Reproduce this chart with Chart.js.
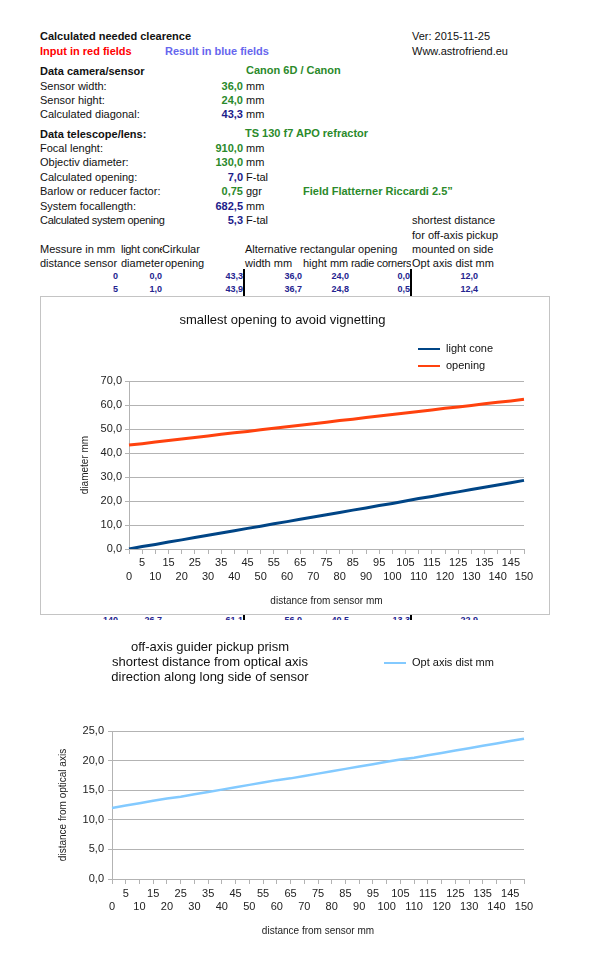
<!DOCTYPE html>
<html>
<head>
<meta charset="utf-8">
<script src="https://cdn.jsdelivr.net/npm/chart.js@4.4.0/dist/chart.umd.min.js"></script>
<style>
body { margin:0; background:#fff; width:597px; height:957px; position:relative; overflow:hidden; font-family:"Liberation Sans", Arial, sans-serif; }
.t { position:absolute; font-size:11px; line-height:14px; white-space:nowrap; color:#111; }
.b { font-weight:bold; }
.g { color:#2b8a2b; font-weight:bold; }
.d { color:#1c1c8a; font-weight:bold; }
.r { text-align:right; }
.n { position:absolute; font-size:9px; line-height:14px; font-weight:bold; color:#24248f; text-align:right; white-space:nowrap; }
.clip { overflow:hidden; letter-spacing:-0.3px; }
.vl { position:absolute; width:2px; background:#000; top:269px; height:370px; }
#box1 { position:absolute; left:40px; top:296px; width:508px; height:317px; border:1px solid #c4c4c4; background:#fff; }
#box2 { position:absolute; left:40px; top:620px; width:520px; height:337px; background:#fff; }
canvas { display:block; }
</style>
</head>
<body>
<div class="t b" style="left:40px;top:29px">Calculated needed clearence</div>
<div class="t" style="left:412px;top:29px">Ver: 2015-11-25</div>
<div class="t b" style="left:40px;top:44px;color:#ff0000">Input in red fields</div>
<div class="t b" style="left:165px;top:44px;color:#6666ee">Result in blue fields</div>
<div class="t" style="left:412px;top:44px">Www.astrofriend.eu</div>

<div class="t b" style="left:40px;top:64px">Data camera/sensor</div>
<div class="t g" style="left:246px;top:63px">Canon 6D / Canon</div>
<div class="t" style="left:40px;top:79px">Sensor width:</div>
<div class="t g r" style="left:165px;width:78px;top:79px">36,0</div>
<div class="t" style="left:246px;top:79px">mm</div>
<div class="t" style="left:40px;top:93px">Sensor hight:</div>
<div class="t g r" style="left:165px;width:78px;top:93px">24,0</div>
<div class="t" style="left:246px;top:93px">mm</div>
<div class="t" style="left:40px;top:107px">Calculated diagonal:</div>
<div class="t d r" style="left:165px;width:78px;top:107px">43,3</div>
<div class="t" style="left:246px;top:107px">mm</div>

<div class="t b" style="left:40px;top:127px">Data telescope/lens:</div>
<div class="t g" style="left:245px;top:126px">TS 130 f7 APO refractor</div>
<div class="t" style="left:40px;top:141px">Focal lenght:</div>
<div class="t g r" style="left:165px;width:78px;top:141px">910,0</div>
<div class="t" style="left:246px;top:141px">mm</div>
<div class="t" style="left:40px;top:155px">Objectiv diameter:</div>
<div class="t g r" style="left:165px;width:78px;top:155px">130,0</div>
<div class="t" style="left:246px;top:155px">mm</div>
<div class="t" style="left:40px;top:170px">Calculated opening:</div>
<div class="t d r" style="left:165px;width:78px;top:170px">7,0</div>
<div class="t" style="left:246px;top:170px">F-tal</div>
<div class="t" style="left:40px;top:184px">Barlow or reducer factor:</div>
<div class="t g r" style="left:165px;width:78px;top:184px">0,75</div>
<div class="t" style="left:246px;top:184px">ggr</div>
<div class="t g" style="left:303px;top:184px">Field Flatterner Riccardi 2.5”</div>
<div class="t" style="left:40px;top:199px">System focallength:</div>
<div class="t d r" style="left:165px;width:78px;top:199px">682,5</div>
<div class="t" style="left:246px;top:199px">mm</div>
<div class="t clip" style="left:40px;width:125px;top:213px">Calculated system opening</div>
<div class="t d r" style="left:165px;width:78px;top:213px">5,3</div>
<div class="t" style="left:246px;top:213px">F-tal</div>
<div class="t" style="left:412px;top:213px">shortest distance</div>
<div class="t" style="left:412px;top:228px">for off-axis pickup</div>

<div class="t" style="left:40px;top:242px">Messure in mm</div>
<div class="t clip" style="left:121px;width:41px;top:242px">light cone</div>
<div class="t" style="left:162px;top:242px">Cirkular</div>
<div class="t" style="left:245px;top:242px">Alternative rectangular opening</div>
<div class="t" style="left:412px;top:242px">mounted on side</div>
<div class="t" style="left:40px;top:256px">distance sensor</div>
<div class="t" style="left:121px;top:256px">diameter</div>
<div class="t" style="left:165px;top:256px">opening</div>
<div class="t" style="left:245px;top:256px">width mm</div>
<div class="t" style="left:303px;top:256px">hight mm</div>
<div class="t clip" style="left:351px;width:60px;top:256px">radie corners</div>
<div class="t" style="left:412px;top:256px">Opt axis dist mm</div>

<div class="n" style="left:80px;width:38px;top:269px">0</div>
<div class="n" style="left:122px;width:40px;top:269px">0,0</div>
<div class="n" style="left:200px;width:43px;top:269px">43,3</div>
<div class="n" style="left:260px;width:42px;top:269px">36,0</div>
<div class="n" style="left:310px;width:39px;top:269px">24,0</div>
<div class="n" style="left:360px;width:50px;top:269px">0,0</div>
<div class="n" style="left:430px;width:48px;top:269px">12,0</div>
<div class="n" style="left:80px;width:38px;top:282px">5</div>
<div class="n" style="left:122px;width:40px;top:282px">1,0</div>
<div class="n" style="left:200px;width:43px;top:282px">43,9</div>
<div class="n" style="left:260px;width:42px;top:282px">36,7</div>
<div class="n" style="left:310px;width:39px;top:282px">24,8</div>
<div class="n" style="left:360px;width:50px;top:282px">0,5</div>
<div class="n" style="left:430px;width:48px;top:282px">12,4</div>

<div class="n" style="left:80px;width:38px;top:613px">140</div>
<div class="n" style="left:122px;width:40px;top:613px">26,7</div>
<div class="n" style="left:200px;width:43px;top:613px">61,1</div>
<div class="n" style="left:260px;width:42px;top:613px">56,0</div>
<div class="n" style="left:310px;width:39px;top:613px">40,5</div>
<div class="n" style="left:360px;width:50px;top:613px">13,3</div>
<div class="n" style="left:430px;width:48px;top:613px">22,9</div>
<div class="vl" style="left:243px"></div>
<div class="vl" style="left:410px"></div>

<div id="box1"><canvas id="chart1" width="508" height="317"></canvas></div>
<div id="box2"><canvas id="chart2" width="520" height="337"></canvas></div>

<script>
// distance from sensor, mm (category labels)
var distances = ['0','5','10','15','20','25','30','35','40','45','50','55','60','65','70','75',
    '80','85','90','95','100','105','110','115','120','125','130','135','140','145','150'];
// diameter of the light cone, mm
var lightCone = [0.0,1.0,1.9,2.9,3.8,4.8,5.7,6.7,7.6,8.6,9.5,10.5,11.4,12.4,13.3,14.3,
    15.2,16.2,17.1,18.1,19.0,20.0,21.0,21.9,22.9,23.8,24.8,25.7,26.7,27.6,28.6];
// smallest circular opening, mm
var opening = [43.3,43.9,44.6,45.2,45.8,46.5,47.1,47.8,48.4,49.0,49.7,50.3,50.9,51.6,52.2,52.8,
    53.5,54.1,54.8,55.4,56.0,56.7,57.3,57.9,58.6,59.2,59.8,60.5,61.1,61.7,62.4];
// shortest distance from optical axis, mm
var optAxisDist = [12.0,12.4,12.8,13.2,13.6,13.9,14.3,14.7,15.1,15.5,15.9,16.3,16.7,17.0,17.4,17.8,
    18.2,18.6,19.0,19.4,19.8,20.2,20.5,20.9,21.3,21.7,22.1,22.5,22.9,23.3,23.7];

Chart.defaults.font.family = '"Liberation Sans", Arial, sans-serif';
Chart.defaults.color = '#222';

var grey = '#b3b3b3';

function commaTick(v) {
    return v.toFixed(1).replace('.', ',');
}
// staggered labels: odd ones on first row, even ones on second row
function staggerTick(value, index) {
    var l = this.getLabelForValue(value);
    return index % 2 ? [l, ''] : ['', l];
}

// draws legend entries and free titles at fixed spots, like the spreadsheet chart
var sheetText = {
    id: 'sheetText',
    afterDraw: function(chart, args, opts) {
        var ctx = chart.ctx;
        ctx.save();
        ctx.textBaseline = 'middle';
        (opts.titles || []).forEach(function(t) {
            ctx.font = '13px "Liberation Sans", Arial, sans-serif';
            ctx.fillStyle = '#111';
            ctx.textAlign = 'center';
            ctx.fillText(t.text, t.x, t.y);
        });
        (opts.legend || []).forEach(function(it) {
            var ds = chart.data.datasets[it.index];
            ctx.strokeStyle = ds.borderColor;
            ctx.lineWidth = 2;
            ctx.beginPath();
            ctx.moveTo(it.x, it.y);
            ctx.lineTo(it.x + 22, it.y);
            ctx.stroke();
            ctx.font = '11px "Liberation Sans", Arial, sans-serif';
            ctx.fillStyle = '#111';
            ctx.textAlign = 'left';
            ctx.fillText(ds.label, it.x + 28, it.y);
        });
        ctx.restore();
    }
};

new Chart(document.getElementById('chart1').getContext('2d'), {
    type: 'line',
    data: {
        labels: distances,
        datasets: [{
            label: 'light cone',
            data: lightCone,
            borderColor: '#004586',
            borderWidth: 3,
            pointRadius: 0
        }, {
            label: 'opening',
            data: opening,
            borderColor: '#ff420e',
            borderWidth: 3,
            pointRadius: 0
        }]
    },
    options: {
        responsive: false,
        animation: false,
        layout: { padding: { top: 0, right: 25, bottom: 0, left: 0 } },
        plugins: {
            legend: { display: false },
            tooltip: { enabled: false },
            title: {
                display: true,
                text: 'smallest opening to avoid vignetting',
                color: '#111',
                font: { size: 13, weight: 'normal' },
                padding: { top: 15.2, bottom: 53.2 }
            },
            sheetText: {
                legend: [{ index: 0, x: 377, y: 52 }, { index: 1, x: 377, y: 69 }]
            }
        },
        scales: {
            x: {
                afterFit: function(s) { s.height = 65; },
                grid: { drawOnChartArea: false, color: grey, tickLength: 5 },
                border: { color: grey },
                ticks: {
                    autoSkip: false, maxRotation: 0, minRotation: 0, padding: 2,
                    font: { size: 11, lineHeight: 14 / 11 },
                    callback: staggerTick
                },
                title: {
                    display: true, text: 'distance from sensor mm',
                    font: { size: 10 }, padding: { top: 0, bottom: 7 }
                }
            },
            y: {
                min: 0, max: 70,
                afterFit: function(s) { s.width = 88; },
                grid: { color: grey, tickLength: 4 },
                border: { color: grey },
                ticks: { stepSize: 10, padding: 3, font: { size: 11 }, callback: commaTick },
                title: {
                    display: true, text: 'diameter mm',
                    font: { size: 10 }, padding: { top: 38.5, bottom: 0 }
                }
            }
        }
    },
    plugins: [sheetText]
});

new Chart(document.getElementById('chart2').getContext('2d'), {
    type: 'line',
    data: {
        labels: distances,
        datasets: [{
            label: 'Opt axis dist mm',
            data: optAxisDist,
            borderColor: '#83caff',
            borderWidth: 2.5,
            pointRadius: 0
        }]
    },
    options: {
        responsive: false,
        animation: false,
        layout: { padding: { top: 111, right: 36, bottom: 0, left: 0 } },
        plugins: {
            legend: { display: false },
            tooltip: { enabled: false },
            sheetText: {
                titles: [
                    { text: 'off-axis guider pickup prism', x: 170, y: 27 },
                    { text: 'shortest distance from optical axis', x: 170, y: 42 },
                    { text: 'direction along long side of sensor', x: 170, y: 57 }
                ],
                legend: [{ index: 0, x: 344, y: 43 }]
            }
        },
        scales: {
            x: {
                afterFit: function(s) { s.height = 78; },
                grid: { drawOnChartArea: false, color: grey, tickLength: 5 },
                border: { color: grey },
                ticks: {
                    autoSkip: false, maxRotation: 0, minRotation: 0, padding: 3.5,
                    font: { size: 11, lineHeight: 13 / 11 },
                    callback: staggerTick
                },
                title: {
                    display: true, text: 'distance from sensor mm',
                    font: { size: 10 }, padding: { top: 0, bottom: 19.4 }
                }
            },
            y: {
                min: 0, max: 25,
                afterFit: function(s) { s.width = 72; },
                grid: { color: grey, tickLength: 4 },
                border: { color: grey },
                ticks: { stepSize: 5, padding: 4, font: { size: 11 }, callback: commaTick },
                title: {
                    display: true, text: 'distance from optical axis',
                    font: { size: 10 }, padding: { top: 17.4, bottom: 0 }
                }
            }
        }
    },
    plugins: [sheetText]
});
</script>
</body>
</html>
